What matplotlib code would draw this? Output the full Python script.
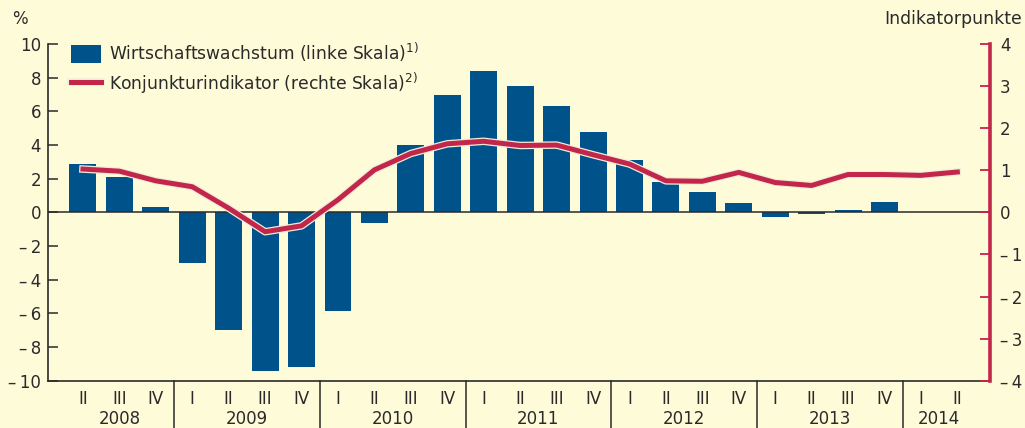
import numpy as np
import matplotlib
matplotlib.use("Agg")
import matplotlib.pyplot as plt
import matplotlib.patheffects as pe
import matplotlib.transforms as mtransforms

plt.rcParams['font.family'] = ['DejaVu Sans']
plt.rcParams['mathtext.fontset'] = 'dejavusans'

# quarters 2008 II .. 2014 II
quarters = ["II", "III", "IV"] + ["I", "II", "III", "IV"] * 5 + ["I", "II"]
years = ["2008", "2009", "2010", "2011", "2012", "2013", "2014"]
quarters_per_year = [3, 4, 4, 4, 4, 4, 2]

growth = [2.9, 2.1, 0.3,
          -3.0, -7.0, -9.45, -9.2,
          -5.85, -0.65, 4.0, 7.0,
          8.4, 7.5, 6.3, 4.8,
          3.1, 1.8, 1.2, 0.55,
          -0.25, -0.12, 0.12, 0.6,
          np.nan, np.nan]

indicator = [1.03, 0.98, 0.75,
             0.61, 0.1, -0.46, -0.32,
             0.3, 1.01, 1.4, 1.63,
             1.69, 1.59, 1.6, 1.37,
             1.15, 0.75, 0.74, 0.95,
             0.71, 0.64, 0.9, 0.9,
             0.88, 0.96]

bg = "#fefbd9"
blue = "#00528a"
red = "#c2264a"
dark = "#2a2a2a"

fig = plt.figure(figsize=(10.25, 4.28), dpi=100, facecolor=bg)
ax = fig.add_axes([0.0468, 0.1105, 0.9192, 0.7865], facecolor=bg)
ax2 = ax.twinx()

x = np.arange(len(quarters))
ax.bar(x, growth, width=0.74, color=blue, zorder=2,
       label="Wirtschaftswachstum (linke Skala)$^{\\mathrm{1)}}$")
ax.axhline(0, color=dark, lw=1.1, zorder=3)

ax.set_xlim(-0.96, 24.9)
ax.set_ylim(-10, 10)
ax.set_yticks(np.arange(-10, 11, 2))
ax.set_yticklabels([("\u2013\u2009" + str(-v)) if v < 0 else str(v) for v in range(-10, 11, 2)])
ax.tick_params(axis='y', direction='in', length=7.5, width=1.1, color=dark,
               labelsize=12, pad=5, labelcolor=dark)
ax.set_xticks(x)
ax.set_xticklabels(quarters)
ax.tick_params(axis='x', length=0, labelsize=12, pad=7, labelcolor=dark)
for s in ['top', 'right']:
    ax.spines[s].set_visible(False)
ax.spines['left'].set_color(dark)
ax.spines['left'].set_linewidth(1.2)
ax.spines['bottom'].set_color(dark)
ax.spines['bottom'].set_linewidth(1.2)

# year labels and separators
trans = mtransforms.blended_transform_factory(ax.transData, ax.transAxes)
start = 0
for yr, n in zip(years, quarters_per_year):
    ax.text(start + (n - 1) / 2, -0.114, yr, transform=trans, ha='center', va='center',
            fontsize=12, color=dark)
    start += n
    if start < len(quarters):
        ax.plot([start - 0.5, start - 0.5], [0, -0.15], transform=trans, color=dark,
                lw=1.1, clip_on=False)

# right axis
line, = ax2.plot(x, indicator, color=red, lw=3.6, zorder=4, solid_joinstyle='round',
                 label="Konjunkturindikator (rechte Skala)$^{\\mathrm{2)}}$",
                 path_effects=[pe.Stroke(linewidth=5.4, foreground="#f3ecd8"), pe.Normal()])
ax2.set_ylim(-4, 4)
ax2.set_yticks(np.arange(-4, 5, 1))
ax2.set_yticklabels([("\u2013\u2009" + str(-v)) if v < 0 else str(v) for v in range(-4, 5)])
ax2.tick_params(axis='y', direction='in', length=7.5, width=1.3, color=red,
                labelsize=12, pad=7, labelcolor=dark)
for s in ['top', 'left', 'bottom']:
    ax2.spines[s].set_visible(False)
ax2.spines['right'].set_color(red)
ax2.spines['right'].set_linewidth(2.6)

fig.text(0.012, 0.955, "%", fontsize=12, color=dark, va='center', ha='left')
fig.text(0.997, 0.955, "Indikatorpunkte", fontsize=12.4, color=dark, va='center', ha='right')

handles = [ax.containers[0], line]
labels = [h.get_label() for h in handles]
leg = ax.legend(handles, labels, loc='upper left', bbox_to_anchor=(0.017, 1.03),
                frameon=False, fontsize=12.3, handlelength=1.75, handleheight=1.3,
                handletextpad=0.5, labelspacing=0.4, borderaxespad=0.0)
for t in leg.get_texts():
    t.set_color(dark)

fig.savefig("out.png", dpi=100, facecolor=bg)
